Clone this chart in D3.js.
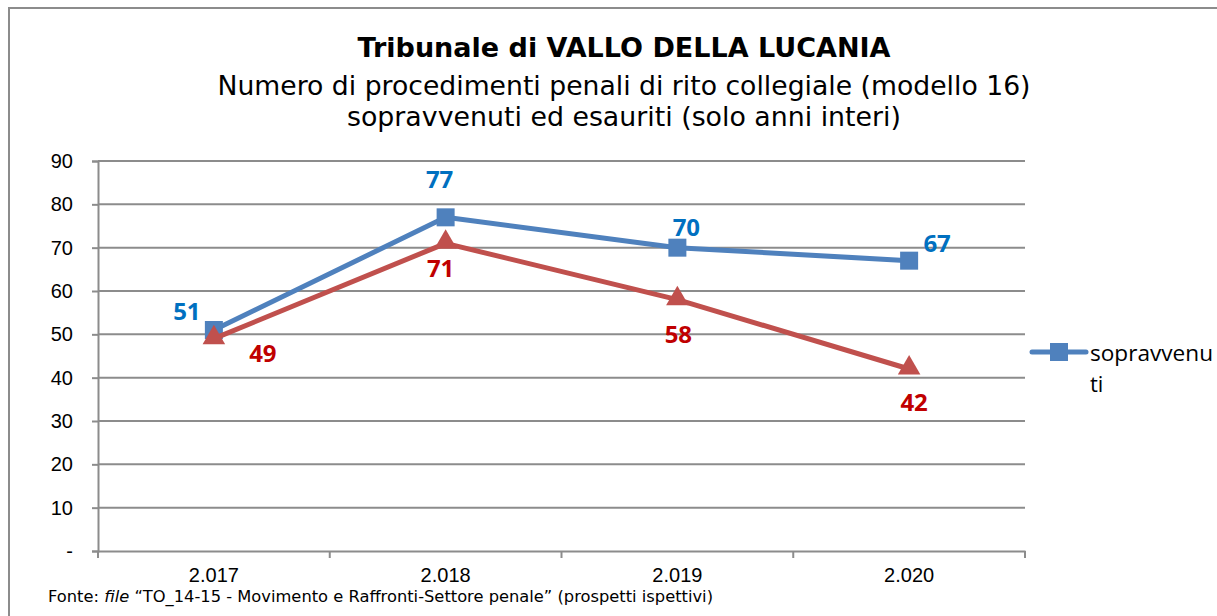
<!DOCTYPE html>
<html>
<head>
<meta charset="utf-8">
<script src="https://cdn.jsdelivr.net/npm/d3@7"></script>
<style>
  body { margin: 0; background: #fff; }
  svg { display: block; }
</style>
</head>
<body>
<div id="chart"></div>
<script>
const years = ["2.017", "2.018", "2.019", "2.020"];
const sopravvenuti = [51, 77, 70, 67];
const esauriti = [49, 71, 58, 42];
const yTicks = [0, 10, 20, 30, 40, 50, 60, 70, 80, 90];

const width = 1217, height = 616;
const svg = d3.select("#chart").append("svg")
    .attr("width", width)
    .attr("height", height);

// outer frame of the chart object
svg.append("rect")
    .attr("x", 9).attr("y", 8)
    .attr("width", width + 10).attr("height", height + 10)
    .attr("fill", "none")
    .attr("stroke", "#8c8c8c")
    .attr("stroke-width", 2);

// shrink or stretch a text to a given width, keeping its height
function fit(sel, w) {
    sel.attr("textLength", w).attr("lengthAdjust", "spacingAndGlyphs");
}

const cx = 624;
svg.append("text")
    .attr("x", cx).attr("y", 57)
    .attr("text-anchor", "middle")
    .style("font-family", "DejaVu Sans")
    .style("font-weight", "bold")
    .style("font-size", "27px")
    .text("Tribunale di VALLO DELLA LUCANIA")
    .call(fit, 533);

svg.append("text")
    .attr("x", cx).attr("y", 95)
    .attr("text-anchor", "middle")
    .style("font-family", "DejaVu Sans")
    .style("font-size", "27px")
    .text("Numero di procedimenti penali di rito collegiale (modello 16)")
    .call(fit, 813);

svg.append("text")
    .attr("x", cx).attr("y", 126)
    .attr("text-anchor", "middle")
    .style("font-family", "DejaVu Sans")
    .style("font-size", "27px")
    .text("sopravvenuti ed esauriti (solo anni interi)")
    .call(fit, 554);

const x = d3.scaleBand().domain(years).range([98, 1025]);
const y = d3.scaleLinear().domain([0, 90]).range([551, 161]);
const px = d => x(d) + x.bandwidth() / 2;

// horizontal gridlines
svg.append("g")
    .selectAll("line")
    .data(yTicks.filter(t => t > 0))
    .enter().append("line")
    .attr("x1", 98).attr("x2", 1025)
    .attr("y1", d => y(d)).attr("y2", d => y(d))
    .attr("stroke", "#8c8c8c")
    .attr("stroke-width", 2);

// y axis
const yAxis = svg.append("g")
    .attr("transform", "translate(98,0)")
    .call(d3.axisLeft(y).tickValues(yTicks).tickSize(6).tickPadding(19)
        .tickFormat(d => d === 0 ? "-" : d));
yAxis.select(".domain").attr("stroke", "#8c8c8c").attr("stroke-width", 2);
yAxis.selectAll(".tick line").attr("stroke", "#8c8c8c").attr("stroke-width", 2);
yAxis.selectAll("text")
    .style("font-family", "Liberation Sans, Arial, sans-serif")
    .style("font-size", "20px")
    .attr("fill", "#000");

// x axis
const xAxis = svg.append("g")
    .attr("transform", "translate(0,551)")
    .call(d3.axisBottom(x).tickSize(0).tickPadding(17));
xAxis.select(".domain").attr("stroke", "#8c8c8c").attr("stroke-width", 2);
xAxis.selectAll("text")
    .style("font-family", "Liberation Sans, Arial, sans-serif")
    .style("font-size", "20px")
    .attr("fill", "#000");
// tick marks sit on band edges
xAxis.selectAll("line.edge")
    .data(years.map(d => x(d)).concat([x.range()[1]]))
    .enter().append("line")
    .attr("class", "edge")
    .attr("x1", d => d).attr("x2", d => d)
    .attr("y1", 0).attr("y2", 7)
    .attr("stroke", "#8c8c8c")
    .attr("stroke-width", 2);

const line = d3.line().x((d, i) => px(years[i])).y(d => y(d));

// sopravvenuti (blue, squares)
svg.append("path")
    .datum(sopravvenuti)
    .attr("d", line)
    .attr("fill", "none")
    .attr("stroke", "#4F81BD")
    .attr("stroke-width", 5)
    .attr("stroke-linejoin", "round");

svg.selectAll("rect.sq")
    .data(sopravvenuti)
    .enter().append("rect")
    .attr("class", "sq")
    .attr("x", (d, i) => px(years[i]) - 9)
    .attr("y", d => y(d) - 9)
    .attr("width", 18).attr("height", 18)
    .attr("fill", "#4F81BD");

// esauriti (red, triangles) drawn on top
svg.append("path")
    .datum(esauriti)
    .attr("d", line)
    .attr("fill", "none")
    .attr("stroke", "#C0504D")
    .attr("stroke-width", 5)
    .attr("stroke-linejoin", "round");

svg.selectAll("path.tri")
    .data(esauriti)
    .enter().append("path")
    .attr("class", "tri")
    .attr("d", d3.symbol().type(d3.symbolTriangle).size(220))
    .attr("transform", (d, i) => `translate(${px(years[i])},${y(d) - 1})`)
    .attr("fill", "#C0504D");

// data labels
const blueOffset = [[-27, -18], [-6, -38], [9, -20], [28, -17]];
const redOffset = [[49, 15], [-5, 25], [1, 35], [5, 34]];

function labels(data, offsets, color) {
    svg.selectAll(null)
        .data(data)
        .enter().append("text")
        .attr("x", (d, i) => px(years[i]) + offsets[i][0])
        .attr("y", (d, i) => y(d) + offsets[i][1])
        .attr("dy", "0.35em")
        .attr("text-anchor", "middle")
        .style("font-family", "Open Sans, sans-serif")
        .style("font-weight", "bold")
        .style("font-size", "24px")
        .attr("fill", color)
        .text(d => d);
}
labels(sopravvenuti, blueOffset, "#0070C0");
labels(esauriti, redOffset, "#C00000");

// legend (only first entry is visible in the frame)
const leg = svg.append("g").attr("transform", "translate(1032,352)");
leg.append("line")
    .attr("x1", 0).attr("x2", 54)
    .attr("stroke", "#4F81BD")
    .attr("stroke-width", 5)
    .attr("stroke-linecap", "round");
leg.append("rect")
    .attr("x", 18).attr("y", -9)
    .attr("width", 18).attr("height", 18)
    .attr("fill", "#4F81BD");
leg.append("text")
    .attr("x", 58).attr("y", 9)
    .style("font-family", "Open Sans, sans-serif")
    .style("font-size", "22px")
    .attr("fill", "#000")
    .text("sopravvenu")
    .call(fit, 123);
leg.append("text")
    .attr("x", 58).attr("y", 40)
    .style("font-family", "Open Sans, sans-serif")
    .style("font-size", "22px")
    .attr("fill", "#000")
    .text("ti");

// source note
const note = svg.append("text")
    .attr("x", 48).attr("y", 602)
    .style("font-family", "DejaVu Sans")
    .style("font-size", "16px")
    .attr("fill", "#000");
note.append("tspan").text("Fonte: ");
note.append("tspan").style("font-style", "italic").text("file");
note.append("tspan").text(" \u201CTO_14-15 - Movimento e Raffronti-Settore penale\u201D (prospetti ispettivi)");
note.call(fit, 665);
</script>
</body>
</html>
